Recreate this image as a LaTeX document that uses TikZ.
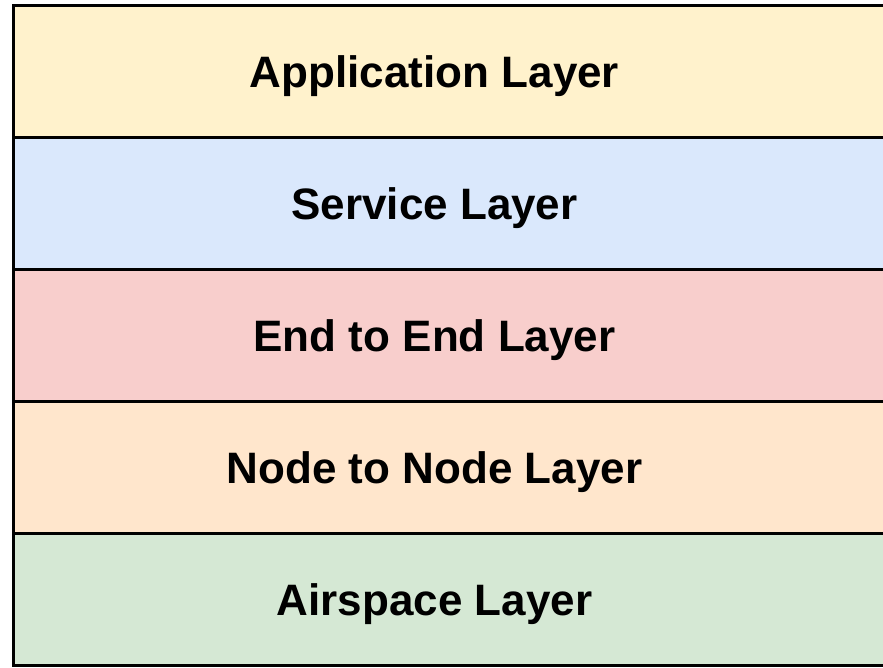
\documentclass[tikz,border=0pt]{standalone}
\usepackage{fontspec}
\setmainfont{Liberation Sans}
\usepackage{tikz}
\usetikzlibrary{positioning}

\definecolor{appfill}{HTML}{FFF2CC}
\definecolor{servfill}{HTML}{DAE8FC}
\definecolor{endfill}{HTML}{F8CECC}
\definecolor{nodefill}{HTML}{FFE6CC}
\definecolor{airfill}{HTML}{D5E8D4}

\tikzset{
	layer/.style={rectangle, draw, line width=3pt, outer sep=0pt, minimum width=877pt, minimum height=132pt},
	lbl/.style={font=\fontsize{44}{50}\selectfont\bfseries, xshift=-17pt, yshift=-5pt}
}

\begin{document}
\begin{tikzpicture}[x=1pt, y=1pt]
			\clip (0,0) rectangle (883,-667);
			\fill[white] (0,0) rectangle (883,-667);
			
			\node[layer, fill=appfill] (app) at (451.5,-71) {};
			\node[layer, fill=servfill, below = 0pt of app] (serv) {};
			\node[layer, fill=endfill, below = 0pt of serv] (e2e) {};
			\node[layer, fill=nodefill, below = 0pt of e2e] (n2n) {};
			\node[layer, fill=airfill, below = 0pt of n2n] (air) {};
			
			\node[lbl] (appl) at (app) {Application Layer};
			\node[lbl] (servl) at (serv) {Service Layer};
			\node[lbl] (e2el) at (e2e) {End to End Layer};
			\node[lbl] (n2nl) at (n2n) {Node to Node Layer};
			\node[lbl] (airl) at (air) {Airspace Layer};
			
		\end{tikzpicture}
\end{document}
